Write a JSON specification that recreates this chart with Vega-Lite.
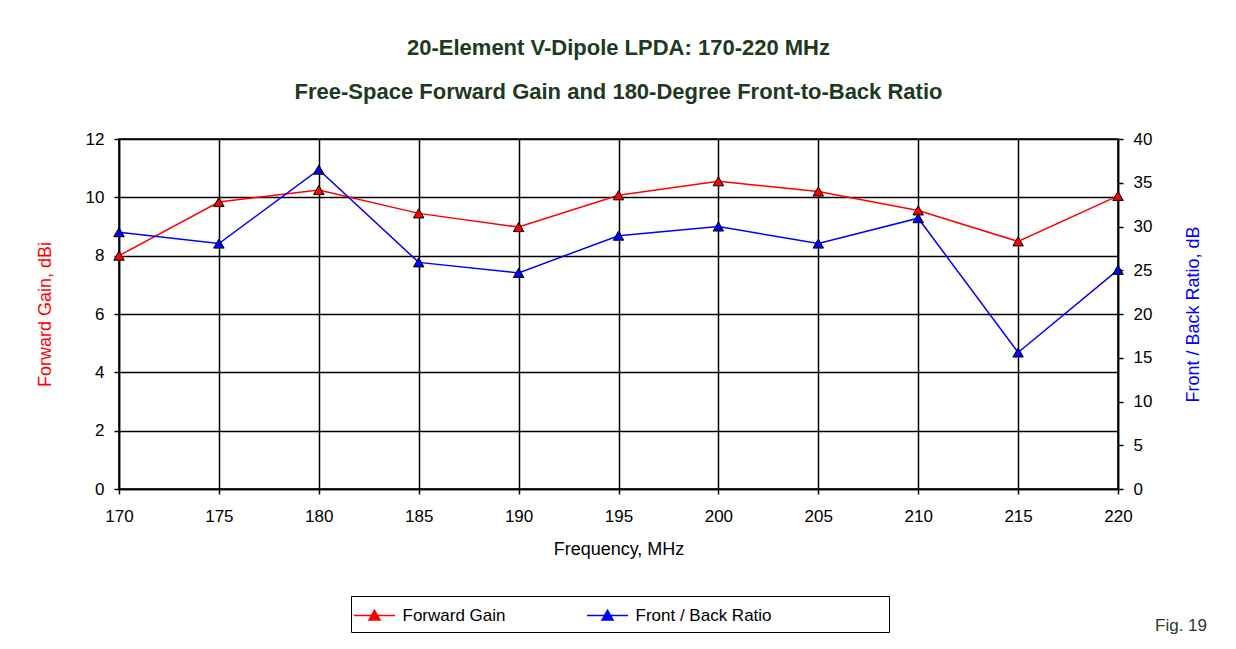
{
  "$schema": "https://vega.github.io/schema/vega-lite/v6.json",
  "width": 999,
  "height": 350,
  "autosize": {"type": "none"},
  "padding": {"left": 119, "top": 139, "right": 118, "bottom": 160},
  "background": "white",
  "config": {
    "font": "Liberation Sans",
    "view": {"stroke": "#000", "strokeWidth": 1.5},
    "axis": {
      "labelFont": "Liberation Sans",
      "labelFontSize": 17,
      "labelColor": "#000",
      "titleFont": "Liberation Sans",
      "titleFontSize": 18,
      "titleFontWeight": "normal",
      "domainColor": "#000",
      "domainWidth": 1.5,
      "tickColor": "#000",
      "tickWidth": 1.5,
      "gridColor": "#000",
      "gridOpacity": 1,
      "gridWidth": 1.5,
      "tickSize": 5
    }
  },
  "title": {
    "text": "20-Element V-Dipole LPDA: 170-220 MHz",
    "subtitle": "Free-Space Forward Gain and 180-Degree Front-to-Back Ratio",
    "font": "Liberation Sans",
    "fontSize": 22,
    "fontWeight": "bold",
    "color": "#1e3a1e",
    "subtitleFont": "Liberation Sans",
    "subtitleFontSize": 22,
    "subtitleFontWeight": "bold",
    "subtitleColor": "#1e3a1e",
    "subtitlePadding": 22,
    "offset": 26,
    "anchor": "middle"
  },
  "data": {
    "values": [
      {"freq": 170, "series": "Forward Gain", "value": 8.0},
      {"freq": 175, "series": "Forward Gain", "value": 9.84},
      {"freq": 180, "series": "Forward Gain", "value": 10.25},
      {"freq": 185, "series": "Forward Gain", "value": 9.45},
      {"freq": 190, "series": "Forward Gain", "value": 8.98},
      {"freq": 195, "series": "Forward Gain", "value": 10.07},
      {"freq": 200, "series": "Forward Gain", "value": 10.55},
      {"freq": 205, "series": "Forward Gain", "value": 10.2},
      {"freq": 210, "series": "Forward Gain", "value": 9.55},
      {"freq": 215, "series": "Forward Gain", "value": 8.49},
      {"freq": 220, "series": "Forward Gain", "value": 10.05},
      {"freq": 170, "series": "Front / Back Ratio", "value": 29.35},
      {"freq": 175, "series": "Front / Back Ratio", "value": 28.05},
      {"freq": 180, "series": "Front / Back Ratio", "value": 36.5},
      {"freq": 185, "series": "Front / Back Ratio", "value": 25.9},
      {"freq": 190, "series": "Front / Back Ratio", "value": 24.7},
      {"freq": 195, "series": "Front / Back Ratio", "value": 28.95},
      {"freq": 200, "series": "Front / Back Ratio", "value": 30.0},
      {"freq": 205, "series": "Front / Back Ratio", "value": 28.05},
      {"freq": 210, "series": "Front / Back Ratio", "value": 30.95},
      {"freq": 215, "series": "Front / Back Ratio", "value": 15.6},
      {"freq": 220, "series": "Front / Back Ratio", "value": 25.05}
    ]
  },
  "encoding": {
    "x": {
      "field": "freq",
      "type": "quantitative",
      "scale": {"domain": [170, 220], "nice": false, "zero": false},
      "axis": {
        "title": "Frequency, MHz",
        "values": [170, 175, 180, 185, 190, 195, 200, 205, 210, 215, 220],
        "labelPadding": 14,
        "titlePadding": 16,
        "grid": true,
        "labelFlush": false
      }
    }
  },
  "layer": [
    {
      "transform": [{"filter": "datum.series === 'Forward Gain'"}],
      "encoding": {
        "y": {
          "field": "value",
          "type": "quantitative",
          "scale": {"domain": [0, 12], "nice": false},
          "axis": {
            "orient": "left",
            "title": "Forward Gain,  dBi",
            "titleColor": "#ff0000",
            "values": [0, 2, 4, 6, 8, 10, 12],
            "grid": true,
            "labelPadding": 10,
            "titlePadding": 31
          }
        }
      },
      "layer": [
        {
          "mark": {"type": "line", "strokeWidth": 1.5},
          "encoding": {
            "color": {
              "field": "series",
              "type": "nominal",
              "scale": {"domain": ["Forward Gain", "Front / Back Ratio"], "range": ["#ff0000", "#0000ff"]},
              "legend": {
                "title": null,
                "orient": "none",
                "legendX": 232,
                "legendY": 457,
                "direction": "horizontal",
                "strokeColor": "#000",
                "padding": 8.5,
                "labelFontSize": 17,
                "labelFont": "Liberation Sans",
                "labelColor": "#000",
                "labelLimit": 400,
                "labelExpr": "datum.label === 'Front / Back Ratio' ? datum.label + '\u2800\u2800\u2800\u2800\u2800\u2800\u2800\u2800\u2800' : datum.label",
                "symbolType": "M-2,0H2M-0.54,0.44L0,-0.5L0.54,0.44Z",
                "symbolSize": 420,
                "symbolStrokeWidth": 1.5,
                "symbolOffset": 4,
                "labelOffset": 17,
                "columnPadding": 78,
                "encode": {
                  "symbols": {
                    "update": {
                      "fill": {"scale": "color", "field": "value"},
                      "stroke": {"scale": "color", "field": "value"}
                    }
                  }
                }
              }
            }
          }
        },
        {
          "mark": {"type": "point", "shape": "triangle-up", "filled": true, "size": 110, "stroke": "#000", "strokeWidth": 1, "opacity": 1},
          "encoding": {"color": {"field": "series", "type": "nominal"}}
        },
        {
          "transform": [{"filter": "datum.freq === 220"}],
          "mark": {"type": "text", "text": "Fig. 19", "fontSize": 17, "fill": "#2a3a2a", "dx": 63, "align": "center", "baseline": "middle"},
          "encoding": {
            "y": {"datum": -4.7, "type": "quantitative"}
          }
        }
      ]
    },
    {
      "transform": [{"filter": "datum.series === 'Front / Back Ratio'"}],
      "encoding": {
        "y": {
          "field": "value",
          "type": "quantitative",
          "scale": {"domain": [0, 40], "nice": false},
          "axis": {
            "orient": "right",
            "title": "Front / Back Ratio,  dB",
            "titleColor": "#0000ff",
            "titleAngle": 270,
            "titleBaseline": "top",
            "values": [0, 5, 10, 15, 20, 25, 30, 35, 40],
            "grid": false,
            "labelPadding": 10,
            "titlePadding": 33
          }
        },
        "color": {"field": "series", "type": "nominal"}
      },
      "layer": [
        {"mark": {"type": "line", "strokeWidth": 1.5}},
        {"mark": {"type": "point", "shape": "triangle-up", "filled": true, "size": 110, "stroke": "#000", "strokeWidth": 1, "opacity": 1}}
      ]
    }
  ],
  "resolve": {"scale": {"y": "independent"}}
}
